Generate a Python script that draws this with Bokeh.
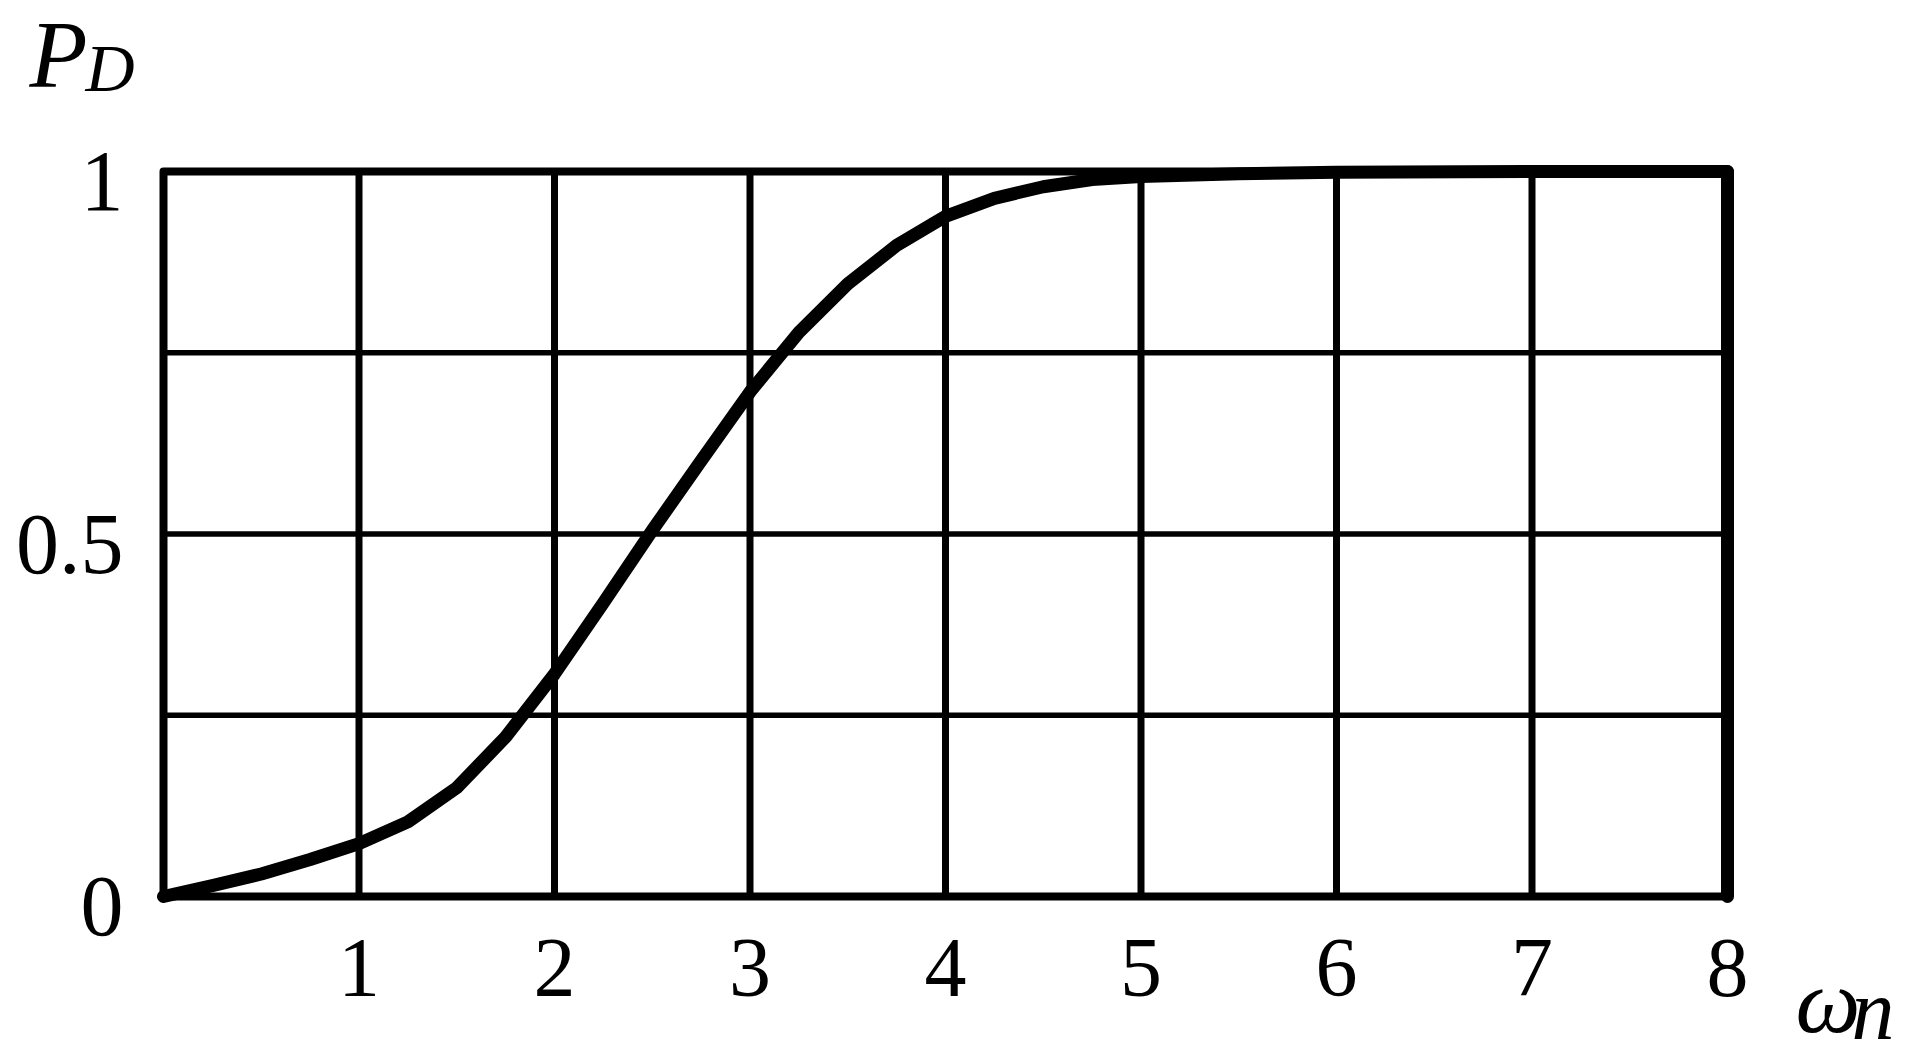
from bokeh.plotting import figure
from bokeh.models import Range1d
from bokeh.embed import file_html
from bokeh.resources import INLINE

# data
omega_n = [0, 0.25, 0.5, 0.75, 1, 1.25, 1.5, 1.75, 2, 2.25, 2.5, 2.75, 3, 3.25,
           3.5, 3.75, 4, 4.25, 4.5, 4.75, 5, 5.5, 6, 7, 8]
p_d = [0, 0.015, 0.031, 0.051, 0.073, 0.103, 0.150, 0.220, 0.307, 0.405, 0.505,
       0.601, 0.696, 0.778, 0.845, 0.898, 0.938, 0.963, 0.979, 0.989, 0.993,
       0.997, 0.999, 1.0, 1.0]
x_ticks = [1, 2, 3, 4, 5, 6, 7, 8]
x_tick_labels = ["1", "2", "3", "4", "5", "6", "7", "8"]
y_ticks = [0, 0.5, 1]
y_tick_labels = ["0", "0.5", "1"]
x_grid = [1, 2, 3, 4, 5, 6, 7]
y_grid = [0.25, 0.5, 0.75]
x_min, x_max = 0, 8
y_min, y_max = 0, 1

SERIF = "Liberation Serif"

# layout (pixels in the canvas)
CW, CH = 1912, 1060
PL, PR, PT, PB = 163, 1727, 171, 896      # plot-area box
sx = (PR - PL) / (x_max - x_min)
sy = (PB - PT) / (y_max - y_min)

p = figure(width=CW, height=CH, output_backend="svg", toolbar_location=None,
           x_range=Range1d(x_min - PL / sx, x_max + (CW - PR) / sx),
           y_range=Range1d(y_min - (CH - PB) / sy, y_max + PT / sy),
           min_border=0, x_axis_location=None, y_axis_location=None)
p.background_fill_color = "white"
p.border_fill_color = "white"
p.outline_line_color = None
p.xgrid.visible = False
p.ygrid.visible = False

# grid lines
p.segment(x0=x_grid, y0=[y_min] * len(x_grid), x1=x_grid, y1=[y_max] * len(x_grid),
          line_color="black", line_width=7)
p.segment(x0=[x_min] * len(y_grid), y0=y_grid, x1=[x_max] * len(y_grid), y1=y_grid,
          line_color="black", line_width=5.5)

# plot-area border
p.quad(left=[x_min], right=[x_max], bottom=[y_min], top=[y_max], fill_color=None,
       line_color="black", line_width=8, line_join="round")
p.segment(x0=[x_max], y0=[y_min], x1=[x_max], y1=[y_max], line_color="black",
          line_width=13, line_cap="round")

# curve
p.line(omega_n, p_d, line_color="black", line_width=13, line_join="round",
       line_cap="round")

# tick labels
p.text(x=x_ticks, y=[y_min] * len(x_ticks), text=x_tick_labels,
       text_font={"value": SERIF}, text_font_size="84px", text_color="black",
       text_align="center", text_baseline="alphabetic", y_offset=71)
p.text(x=[x_min] * len(y_ticks), y=y_ticks, text=y_tick_labels,
       text_font={"value": SERIF}, text_font_size="86px", text_color="black",
       text_align="right", text_baseline="alphabetic", x_offset=-40, y_offset=10)

# axis titles
def title_part(x, y, txt, size, dx, dy):
    p.text(x=[x], y=[y], text=[txt], text_font={"value": SERIF},
           text_font_style="italic", text_font_size=size, text_color="black",
           text_align="left", text_baseline="alphabetic", x_offset=dx, y_offset=dy)

title_part(x_min, y_max, "P", "95px", -134, -117)
title_part(x_min, y_max, "D", "68px", -78, -104)
title_part(x_max, y_min, "ω", "92px", 68, 104)
title_part(x_max, y_min, "n", "86px", 124, 113)

open("out.html", "w").write(file_html(p, INLINE))
